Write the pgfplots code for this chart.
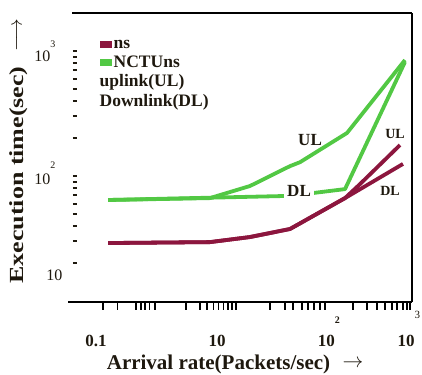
\documentclass[border=0pt]{standalone}
\usepackage{pgfplots}
\pgfplotsset{compat=1.18}
\usepackage{fontspec}
\setmainfont{Liberation Serif}
\definecolor{ngreen}{RGB}{82,200,68}
\definecolor{nsred}{RGB}{140,22,62}
\definecolor{txt}{RGB}{30,24,14}
\begin{document}
\begin{tikzpicture}
\begin{axis}[name=ax, scale only axis, width=339pt, height=289pt,
  xmode=log, ymode=log,
  xmin=0.04484, xmax=1061, ymin=9.82, ymax=2014,
  axis line style={draw=none},
  tick pos=left,
  xtick={0.0888,3.24,90,970},
  xticklabels={{0.1},{10},{10\smash{\raisebox{23pt}{\fontsize{10}{10}\selectfont 2}}},{10\smash{\raisebox{28pt}{\mdseries\fontsize{11}{11}\selectfont 3}}}},
  major x tick style={draw=none},
  xminorticks=false,
  xtick align=outside, major tick length=8pt, minor tick length=8pt,
  xticklabel style={font=\bfseries\fontsize{17}{17}\selectfont, text=txt, yshift=-22pt},
  ytick={16.1,94.6,912},
  yticklabels={{10\hspace*{-7pt}},{10\smash{\raisebox{16pt}{\fontsize{10}{10}\selectfont 2}}},{10\smash{\raisebox{14pt}{\fontsize{10}{10}\selectfont 3}}}},
  major y tick style={draw=none},
  ytick align=inside,
  minor ytick={20,30,40,50,60,70,80,90,100,200,300,400,500,600,700,800,900,1000},
  minor y tick style={line width=2pt, txt, dash pattern=on 4.5pt off 20pt},
  yticklabel style={font=\fontsize{16}{16}\selectfont, text=txt, xshift=-14pt},
  legend style={at={(rel axis cs:0.08,0.915)}, anchor=north west, draw=none, fill=none,
    font=\bfseries\fontsize{17.5}{17.5}\selectfont, text=txt, inner sep=0pt, row sep=2pt,
    cells={anchor=west}},
]
\addlegendimage{legend image code/.code={\fill[nsred] (0pt,-3pt) rectangle (11pt,3pt);}}
\addlegendentry{ns}
\addlegendimage{legend image code/.code={\fill[ngreen] (0pt,-3pt) rectangle (11pt,3pt);}}
\addlegendentry{NCTUns}
\addlegendimage{empty legend}
\addlegendentry{\hspace*{-14pt}uplink(UL)}
\addlegendimage{empty legend}
\addlegendentry{\hspace*{-14pt}Downlink(DL)}

% NCTUns uplink
\addplot[ngreen, line width=3.8pt, line join=round, forget plot] coordinates {
 (0.127,64.3) (2.62,66.6) (8.61,83.2) (28.3,120) (38.1,129) (154,221) (861,847)};
% NCTUns downlink
\addplot[ngreen, line width=3.8pt, line join=round, forget plot] coordinates {
 (0.127,64.3) (23.7,69.2) (56.0,73.1) (145,78.6) (861,817)};
% ns uplink
\addplot[nsred, line width=3.8pt, line join=round, forget plot] coordinates {
 (0.127,29.1) (2.62,29.6) (8.61,32.5) (28.3,37.7) (145,66.6) (226,86.1) (743,177)};
% ns downlink
\addplot[nsred, line width=3.8pt, line join=round, forget plot] coordinates {
 (0.127,29.1) (2.62,29.6) (8.61,32.5) (28.3,37.7) (145,66.6) (812,125)};

\node[font=\bfseries\fontsize{17}{17}\selectfont, text=txt] at (axis cs:51.3,194) {UL};
\node[font=\bfseries\fontsize{17}{17}\selectfont, text=txt, fill=white, inner xsep=3pt, inner ysep=1pt] at (axis cs:37.0,75.9) {DL};
\node[font=\bfseries\fontsize{14}{14}\selectfont, text=txt] at (axis cs:640,217) {UL};
\node[font=\bfseries\fontsize{14}{14}\selectfont, text=txt] at (axis cs:552,75.9) {DL};
\end{axis}
\draw[line width=2pt, draw=black] ([xshift=-5pt]ax.south west) -- (ax.south east);
\draw[line width=1.5pt, draw=black] (ax.south east) -- (ax.north east);
\draw[line width=2pt, draw=black] ([xshift=-1pt]ax.north west) -- (ax.north east);
% irregular x-axis tick marks of the original
\draw[line width=1.6pt, draw=black]
  ([xshift=29.7pt]ax.south west) -- ([xshift=29.7pt,yshift=-8pt]ax.south west)
  ([xshift=44.3pt]ax.south west) -- ([xshift=44.3pt,yshift=-8pt]ax.south west)
  ([xshift=63pt]ax.south west) -- ([xshift=63pt,yshift=-8pt]ax.south west)
  ([xshift=68pt]ax.south west) -- ([xshift=68pt,yshift=-8pt]ax.south west)
  ([xshift=72pt]ax.south west) -- ([xshift=72pt,yshift=-8pt]ax.south west)
  ([xshift=76.3pt]ax.south west) -- ([xshift=76.3pt,yshift=-8pt]ax.south west)
  ([xshift=82pt]ax.south west) -- ([xshift=82pt,yshift=-8pt]ax.south west)
  ([xshift=113pt]ax.south west) -- ([xshift=113pt,yshift=-8pt]ax.south west)
  ([xshift=127pt]ax.south west) -- ([xshift=127pt,yshift=-8pt]ax.south west)
  ([xshift=133.7pt]ax.south west) -- ([xshift=133.7pt,yshift=-8pt]ax.south west)
  ([xshift=140.3pt]ax.south west) -- ([xshift=140.3pt,yshift=-8pt]ax.south west)
  ([xshift=145.3pt]ax.south west) -- ([xshift=145.3pt,yshift=-8pt]ax.south west)
  ([xshift=150.3pt]ax.south west) -- ([xshift=150.3pt,yshift=-8pt]ax.south west)
  ([xshift=155pt]ax.south west) -- ([xshift=155pt,yshift=-8pt]ax.south west)
  ([xshift=159pt]ax.south west) -- ([xshift=159pt,yshift=-8pt]ax.south west)
  ([xshift=163pt]ax.south west) -- ([xshift=163pt,yshift=-8pt]ax.south west)
  ([xshift=197pt]ax.south west) -- ([xshift=197pt,yshift=-8pt]ax.south west)
  ([xshift=212pt]ax.south west) -- ([xshift=212pt,yshift=-8pt]ax.south west)
  ([xshift=220pt]ax.south west) -- ([xshift=220pt,yshift=-8pt]ax.south west)
  ([xshift=228.7pt]ax.south west) -- ([xshift=228.7pt,yshift=-8pt]ax.south west)
  ([xshift=235pt]ax.south west) -- ([xshift=235pt,yshift=-8pt]ax.south west)
  ([xshift=241pt]ax.south west) -- ([xshift=241pt,yshift=-8pt]ax.south west)
  ([xshift=247pt]ax.south west) -- ([xshift=247pt,yshift=-8pt]ax.south west)
  ([xshift=252pt]ax.south west) -- ([xshift=252pt,yshift=-8pt]ax.south west)
  ([xshift=280pt]ax.south west) -- ([xshift=280pt,yshift=-8pt]ax.south west)
  ([xshift=293.7pt]ax.south west) -- ([xshift=293.7pt,yshift=-8pt]ax.south west)
  ([xshift=303.7pt]ax.south west) -- ([xshift=303.7pt,yshift=-8pt]ax.south west)
  ([xshift=312pt]ax.south west) -- ([xshift=312pt,yshift=-8pt]ax.south west)
  ([xshift=318.7pt]ax.south west) -- ([xshift=318.7pt,yshift=-8pt]ax.south west)
  ([xshift=323.7pt]ax.south west) -- ([xshift=323.7pt,yshift=-8pt]ax.south west)
  ([xshift=330pt]ax.south west) -- ([xshift=330pt,yshift=-8pt]ax.south west)
  ([xshift=334pt]ax.south west) -- ([xshift=334pt,yshift=-8pt]ax.south west)
  ([xshift=337pt]ax.south west) -- ([xshift=337pt,yshift=-8pt]ax.south west);
\node[font=\bfseries\fontsize{21}{21}\selectfont, text=txt] at ([shift={(145.5pt,-62pt)}]ax.south west) {Arrival rate(Packets/sec)};
\node[font=\fontsize{22}{22}\selectfont, text=txt] at ([shift={(280pt,-62pt)}]ax.south west) {$\rightarrow$};
\node[font=\bfseries\fontsize{20}{20}\selectfont, text=txt, rotate=90] at ([shift={(-54pt,127pt)}]ax.south west) {\scalebox{1.3}[1]{Execution time(sec)}};
\node[font=\fontsize{20}{20}\selectfont, text=txt, rotate=90] at ([shift={(-55pt,267pt)}]ax.south west) {$\longrightarrow$};
\pgfresetboundingbox
\path[use as bounding box] ([shift={(-73pt,-72pt)}]ax.south west) rectangle ([shift={(10pt,13pt)}]ax.north east);
\end{tikzpicture}
\end{document}
